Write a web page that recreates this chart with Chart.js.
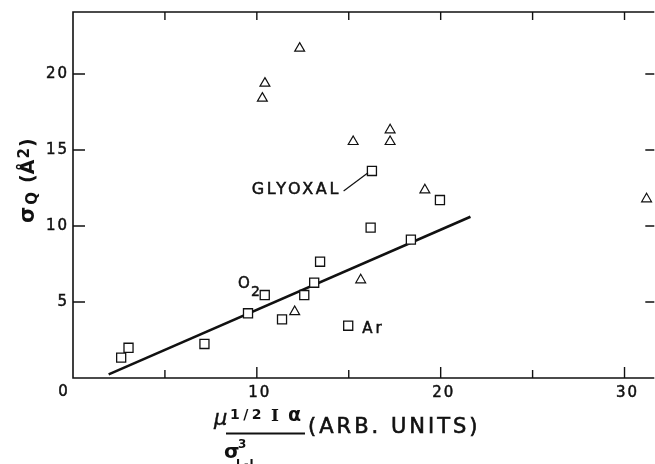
<!DOCTYPE html>
<html>
<head>
<meta charset="utf-8">
<script src="https://cdn.jsdelivr.net/npm/chart.js@4.4.0/dist/chart.umd.min.js"></script>
<style>
  html, body { margin: 0; padding: 0; background: #fff; overflow: hidden; }
  #c { display: block; }
</style>
</head>
<body>
<canvas id="c" width="662" height="464"></canvas>
<script>
// values
const SQUARE_X = [2.62, 3.02, 7.15, 9.52, 10.43, 11.37, 12.58, 13.12, 13.44, 14.97, 16.19, 16.26, 18.38, 19.96];
const SQUARE_Y = [1.34, 1.99, 2.24, 4.26, 5.46, 3.86, 5.46, 6.27, 7.65, 3.44, 9.89, 13.62, 9.10, 11.71];
const TRIANGLE_X = [10.30, 10.44, 12.06, 12.33, 15.24, 15.65, 17.25, 17.25, 19.14, 31.20];
const TRIANGLE_Y = [18.40, 19.39, 4.36, 21.69, 15.55, 6.45, 15.55, 16.32, 12.37, 11.78];
const FIT_X = [1.94, 21.62];
const FIT_Y = [0.24, 10.61];

const X_TICKS = [5, 10, 15, 20, 25, 30];
const X_LABEL_VALUES = [10, 20, 30];
const X_LABELS = ['10', '20', '30'];
const Y_TICKS = [5, 10, 15, 20];
const Y_LABELS = ['5', '10', '15', '20'];

const X_MAX = 31.62;
const Y_MAX = 24.08;

const toPoints = (xs, ys) => xs.map((x, i) => ({ x, y: ys[i] }));

const FONT = '"DejaVu Sans", sans-serif';

// fill + thin stroke so the lettering looks as heavy as the scan
function txt(ctx, text, x, y, spacing = 0, weight = 0.5) {
  ctx.letterSpacing = spacing + 'px';
  ctx.fillText(text, x, y);
  if (weight > 0) {
    ctx.lineWidth = weight;
    ctx.strokeText(text, x, y);
  }
  ctx.letterSpacing = '0px';
}

const framePlugin = {
  id: 'frameAndText',
  afterDraw(chart) {
    const { ctx, chartArea: a, scales } = chart;
    const sx = scales.x, sy = scales.y;
    ctx.save();
    ctx.strokeStyle = '#111';
    ctx.fillStyle = '#111';

    // frame (right side falls just past the window edge)
    ctx.lineWidth = 1.6;
    ctx.beginPath();
    ctx.moveTo(a.right, a.top);
    ctx.lineTo(a.left, a.top);
    ctx.lineTo(a.left, a.bottom);
    ctx.lineTo(a.right, a.bottom);
    ctx.stroke();

    // inward ticks
    ctx.lineWidth = 1.4;
    ctx.beginPath();
    X_TICKS.forEach((v) => {
      const px = sx.getPixelForValue(v);
      const len = v % 10 === 0 ? 11 : 8;
      ctx.moveTo(px, a.bottom);
      ctx.lineTo(px, a.bottom - len);
      ctx.moveTo(px, a.top);
      ctx.lineTo(px, a.top + 8);
    });
    Y_TICKS.forEach((v) => {
      const py = sy.getPixelForValue(v);
      ctx.moveTo(a.left, py);
      ctx.lineTo(a.left + 12, py);
      ctx.moveTo(a.right, py);
      ctx.lineTo(a.right - 9, py);
    });
    ctx.stroke();

    // tick labels
    ctx.font = '15px ' + FONT;
    ctx.textBaseline = 'middle';
    ctx.textAlign = 'center';
    X_LABEL_VALUES.forEach((v, i) => {
      txt(ctx, X_LABELS[i], sx.getPixelForValue(v) + 3, a.bottom + 15, 2);
    });
    ctx.textAlign = 'right';
    Y_TICKS.forEach((v, i) => {
      txt(ctx, Y_LABELS[i], a.left - 4, sy.getPixelForValue(v), 2);
    });
    ctx.textAlign = 'center';
    txt(ctx, '0', a.left - 10, a.bottom + 14);

    // point annotations
    ctx.textAlign = 'left';
    ctx.textBaseline = 'alphabetic';
    ctx.font = '16px ' + FONT;
    txt(ctx, 'GLYOXAL', sx.getPixelForValue(9.72), sy.getPixelForValue(12.37) + 4, 2.7);
    ctx.lineWidth = 1.2;
    ctx.beginPath();
    ctx.moveTo(sx.getPixelForValue(14.72), sy.getPixelForValue(12.3));
    ctx.lineTo(sx.getPixelForValue(16.05), sy.getPixelForValue(13.5));
    ctx.stroke();

    ctx.font = '15px ' + FONT;
    txt(ctx, 'Ar', sx.getPixelForValue(15.73), sy.getPixelForValue(3.36) + 6, 3);

    ctx.font = '15px ' + FONT;
    const ox = sx.getPixelForValue(8.98);
    const oy = sy.getPixelForValue(6.25) + 5;
    txt(ctx, 'O', ox, oy);
    const ow = ctx.measureText('O').width;
    ctx.font = '14px ' + FONT;
    txt(ctx, '2', ox + ow + 1, oy + 8);

    // y axis title, rotated
    ctx.save();
    ctx.translate(34, 223);
    ctx.rotate(-Math.PI / 2);
    ctx.textBaseline = 'alphabetic';
    let cx = 0;
    ctx.font = 'bold 21px ' + FONT;
    ctx.fillText('σ', cx, 0);
    cx += ctx.measureText('σ').width + 2;
    ctx.font = 'bold 15px ' + FONT;
    ctx.fillText('Q', cx, 3);
    cx += ctx.measureText('Q').width + 9;
    ctx.font = 'bold 19px ' + FONT;
    ctx.fillText('(Å', cx, 0);
    cx += ctx.measureText('(Å').width + 1;
    ctx.font = 'bold 15px ' + FONT;
    ctx.fillText('2', cx, -5);
    cx += ctx.measureText('2').width + 1;
    ctx.font = 'bold 19px ' + FONT;
    ctx.fillText(')', cx, 0);
    ctx.restore();

    // x axis title: mu^(1/2) I alpha / sigma^3_(L-J)  (ARB. UNITS)
    ctx.font = 'italic 21px ' + FONT;
    txt(ctx, 'μ', 214, 425, 0, 0.4);
    ctx.font = 'bold 14px ' + FONT;
    txt(ctx, '1/2', 230, 419, 3.5, 0);
    ctx.font = 'bold 17px "DejaVu Serif", serif';
    txt(ctx, 'I', 271, 421, 0, 0);
    ctx.font = 'bold 19px ' + FONT;
    txt(ctx, 'α', 288, 421, 0, 0);
    ctx.lineWidth = 2;
    ctx.beginPath();
    ctx.moveTo(226, 433.5);
    ctx.lineTo(305, 433.5);
    ctx.stroke();
    ctx.font = 'bold 20px ' + FONT;
    txt(ctx, 'σ', 224, 458, 0, 0);
    ctx.font = 'bold 12px ' + FONT;
    txt(ctx, '3', 238, 448, 0, 0);
    ctx.font = 'bold 11px ' + FONT;
    txt(ctx, 'L-J', 236, 467, 1, 0);
    ctx.font = '21px ' + FONT;
    txt(ctx, '(ARB. UNITS)', 308, 433, 3, 0.6);

    ctx.restore();
  }
};

new Chart(document.getElementById('c'), {
  type: 'scatter',
  data: {
    datasets: [
      {
        label: 'fit',
        type: 'line',
        data: toPoints(FIT_X, FIT_Y),
        borderColor: '#111',
        borderWidth: 2.6,
        pointRadius: 0,
        fill: false,
        order: 3
      },
      {
        label: 'squares',
        data: toPoints(SQUARE_X, SQUARE_Y),
        pointStyle: 'rect',
        pointRadius: 6.4,
        pointBorderWidth: 1.3,
        pointBackgroundColor: '#fff',
        pointBorderColor: '#111',
        order: 1
      },
      {
        label: 'triangles',
        data: toPoints(TRIANGLE_X, TRIANGLE_Y),
        pointStyle: 'triangle',
        pointRadius: 5.7,
        pointBorderWidth: 1.2,
        pointBackgroundColor: '#fff',
        pointBorderColor: '#111',
        order: 2
      }
    ]
  },
  options: {
    responsive: false,
    animation: false,
    devicePixelRatio: 1,
    layout: { padding: { left: 73, top: 12, right: 4, bottom: 86 } },
    scales: {
      x: { type: 'linear', min: 0, max: X_MAX, display: false },
      y: { type: 'linear', min: 0, max: Y_MAX, display: false }
    },
    plugins: {
      legend: { display: false },
      tooltip: { enabled: false }
    }
  },
  plugins: [framePlugin]
});
</script>
</body>
</html>
